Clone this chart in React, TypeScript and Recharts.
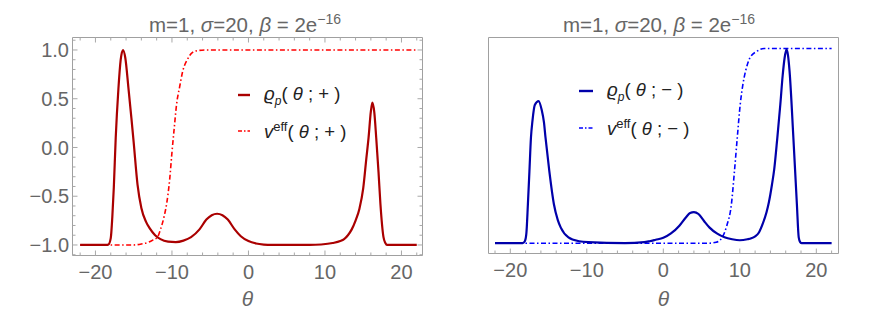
import React from 'react';
import { LineChart, Line, XAxis, YAxis, ReferenceArea, ReferenceLine } from 'recharts';

// theta / value pairs
const rhoPlus: [number, number][] = [
  [-22, -1], [-18.6, -1], [-18.3, -0.995], [-18.0, -0.93], [-17.8, -0.72], [-17.6, -0.41],
  [-17.35, 0.1], [-17.0, 0.6], [-16.7, 0.9], [-16.4, 1.0], [-16.1, 0.92], [-15.7, 0.62],
  [-15.3, 0.3], [-15.0, 0.05], [-14.5, -0.38], [-14.0, -0.62], [-13.4, -0.76], [-12.9, -0.83],
  [-12.2, -0.9], [-11.5, -0.94], [-10.5, -0.965], [-9.5, -0.97], [-8.5, -0.955], [-7.5, -0.92],
  [-6.4, -0.84], [-5.5, -0.74], [-4.8, -0.695], [-4.1, -0.68], [-3.4, -0.695], [-2.7, -0.74],
  [-1.8, -0.84], [-1.0, -0.91], [0, -0.96], [1, -0.985], [2, -0.996], [3, -1], [8, -1],
  [9.5, -0.995], [11, -0.98], [12, -0.96], [12.5, -0.94], [13, -0.9], [13.5, -0.84],
  [14.0, -0.75], [14.5, -0.63], [15.0, -0.42], [15.4, -0.12], [15.7, 0.1], [16.0, 0.37],
  [16.2, 0.46], [16.45, 0.36], [16.7, 0.1], [17.0, -0.25], [17.25, -0.58], [17.65, -0.92],
  [17.9, -0.98], [18.1, -1], [22, -1],
];

const veffPlus: [number, number][] = [
  [-22, -1], [-15, -1], [-14, -0.99], [-13, -0.97], [-12.5, -0.95], [-11.9, -0.92],
  [-11.5, -0.84], [-11, -0.7], [-10.7, -0.58], [-10.3, -0.33], [-10, -0.05], [-9.7, 0.2],
  [-9.4, 0.44], [-9, 0.62], [-8.6, 0.78], [-8, 0.9], [-7.3, 0.975], [-6.5, 0.995],
  [-5.5, 1], [22, 1],
];

const rhoMinus: [number, number][] = [
  [-22, -1], [-18.4, -1], [-18.1, -0.98], [-17.9, -0.9], [-17.7, -0.6], [-17.5, -0.26],
  [-17.3, 0.086], [-17.1, 0.26], [-16.8, 0.42], [-16.3, 0.46], [-15.9, 0.37], [-15.6, 0.24],
  [-15.4, 0.086], [-14.9, -0.26], [-14.3, -0.6], [-13.8, -0.76], [-13.4, -0.84], [-12.4, -0.94],
  [-11, -0.98], [-9.8, -0.99], [-5, -1], [-2.5, -0.99], [-1.8, -0.98], [-1, -0.965],
  [0, -0.945], [1, -0.9], [2.1, -0.82], [3.0, -0.73], [3.5, -0.69], [4.0, -0.68], [4.6, -0.7],
  [5.3, -0.77], [6.05, -0.84], [7, -0.9], [8, -0.94], [9, -0.96], [10, -0.97], [11, -0.96],
  [11.5, -0.95], [12, -0.93], [12.5, -0.89], [13, -0.8], [13.5, -0.68], [13.8, -0.58],
  [14.2, -0.4], [14.5, -0.24], [14.9, 0.08], [15.3, 0.43], [15.6, 0.72], [15.85, 0.9],
  [16.1, 0.99], [16.3, 0.93], [16.5, 0.77], [17.0, 0.086], [17.46, -0.6], [17.7, -0.94],
  [17.9, -0.99], [18.1, -1], [22, -1],
];

const veffMinus: [number, number][] = [
  [-22, -1], [6, -1], [6.9, -0.99], [7.4, -0.97], [7.7, -0.94], [8.3, -0.82], [8.9, -0.6],
  [9.3, -0.26], [9.67, 0.086], [10.06, 0.43], [10.4, 0.63], [10.76, 0.77], [11.3, 0.9],
  [12.2, 0.97], [13.2, 1], [22, 1],
];

const xTicks = [-22, -20, -18, -16, -14, -12, -10, -8, -6, -4, -2, 0, 2, 4, 6, 8, 10, 12, 14, 16, 18, 20, 22];
const xLabels = [-20, -10, 0, 10, 20];
const yTicks = [-1.1, -1.0, -0.9, -0.8, -0.7, -0.6, -0.5, -0.4, -0.3, -0.2, -0.1, 0, 0.1, 0.2, 0.3, 0.4, 0.5, 0.6, 0.7, 0.8, 0.9, 1.0, 1.1];
const yLabels = [-1.0, -0.5, 0, 0.5, 1.0];

const toPts = (arr: [number, number][]) => arr.map(([theta, v]) => ({ theta, v }));

const FONT = '"Liberation Sans", Arial, sans-serif';
const FRAME = '#a0a0a0';
const TICK = '#a8a8a8';
const LABEL = '#666';
const DOTDASH = '5 2.5 1.5 2.5';

const LX: [number, number] = [-23, 22.75];
const LY: [number, number] = [-1.108, 1.128];
const RX: [number, number] = [-22.85, 22.9];
const RY: [number, number] = [-1.106, 1.113];

const minus = (s: string) => s.replace('-', '\u2212');
const isMajorX = (v: number) => Math.abs(v % 10) < 1e-6;
const isMajorY = (v: number) => Math.abs(v * 2 - Math.round(v * 2)) < 1e-6;

// inward frame ticks, lengths given in data units of each axis
function frameTicks(xd: [number, number], yd: [number, number], allSides: boolean) {
  const ux = (xd[1] - xd[0]) / 350;
  const uy = (yd[1] - yd[0]) / 218;
  const out: React.ReactNode[] = [];
  xTicks.forEach((t) => {
    const l = (isMajorX(t) ? 5 : 3) * uy;
    out.push(<ReferenceLine key={`b${t}`} segment={[{ x: t, y: yd[0] }, { x: t, y: yd[0] + l }]} stroke={TICK} />);
    if (allSides) out.push(<ReferenceLine key={`t${t}`} segment={[{ x: t, y: yd[1] }, { x: t, y: yd[1] - l }]} stroke={TICK} />);
  });
  if (allSides) {
    yTicks.forEach((t) => {
      const l = (isMajorY(t) ? 5 : 3) * ux;
      out.push(<ReferenceLine key={`l${t}`} segment={[{ x: xd[0], y: t }, { x: xd[0] + l, y: t }]} stroke={TICK} />);
      out.push(<ReferenceLine key={`r${t}`} segment={[{ x: xd[1], y: t }, { x: xd[1] - l, y: t }]} stroke={TICK} />);
    });
  }
  return out;
}

function Title({ center }: { center: number }) {
  return (
    <div
      style={{
        position: 'absolute', left: center - 200, top: 9, width: 400, textAlign: 'center',
        fontFamily: FONT, fontSize: 20.5, lineHeight: '20px', color: LABEL, whiteSpace: 'nowrap',
      }}
    >
      m=1, <i>σ</i>=20, <i>β</i> = 2e<sup style={{ fontSize: 14, verticalAlign: '8px' }}>−16</sup>
    </div>
  );
}

function LegendRow({ top, left, color, dash, width, children }: any) {
  return (
    <div style={{ position: 'absolute', left, top, display: 'flex', alignItems: 'center', fontFamily: FONT, fontSize: 18.5, color: '#222', whiteSpace: 'nowrap' }}>
      <svg width={width} height={6} style={{ marginRight: 14 }}>
        <line x1={0} x2={width} y1={3} y2={3} stroke={color} strokeWidth={dash ? 1.6 : 2.4} strokeDasharray={dash} />
      </svg>
      <span>{children}</span>
    </div>
  );
}

const rhoLabel = (sign: string) => (
  <>
    <i>ϱ</i><sub style={{ fontSize: 12, fontStyle: 'italic' }}>p</sub>(&nbsp;<i>θ</i>&nbsp;;&nbsp;{sign}&nbsp;)
  </>
);
const veffLabel = (sign: string) => (
  <>
    <i>v</i><sup style={{ fontSize: 13, verticalAlign: '7px' }}>eff</sup>(&nbsp;<i>θ</i>&nbsp;;&nbsp;{sign}&nbsp;)
  </>
);

const tickStyle = { fill: LABEL, fontSize: 20, fontFamily: FONT };
const thetaLabel = { value: 'θ', position: 'insideBottom', offset: 8, fill: LABEL, fontSize: 21, fontStyle: 'italic', fontFamily: FONT };

export default function App() {
  return (
    <div style={{ position: 'absolute', left: 0, top: 0, width: 872, height: 314, background: '#fff', overflow: 'hidden' }}>
      <Title center={245} />
      <div style={{ position: 'absolute', left: 0, top: 0 }}>
        <LineChart width={436} height={314} margin={{ top: 37.5, right: 13.5, bottom: 0, left: 0 }}>
          <XAxis
            type="number" dataKey="theta" domain={LX} ticks={xLabels} interval={0}
            height={58.5} tickSize={0} tickMargin={9.5} tick={tickStyle}
            axisLine={false} tickLine={false} tickFormatter={(v: number) => minus(String(v))}
            label={thetaLabel}
          />
          <YAxis
            type="number" domain={LY} ticks={yLabels} interval={0} width={72.5}
            tickSize={0} tickMargin={3.5} tick={tickStyle} axisLine={false} tickLine={false}
            tickFormatter={(v: number) => minus(v.toFixed(1))}
          />
          <ReferenceArea x1={LX[0]} x2={LX[1]} y1={LY[0]} y2={LY[1]} fill="none" stroke={FRAME} ifOverflow="visible" />
          {frameTicks(LX, LY, true)}
          <Line data={toPts(veffPlus)} dataKey="v" type="monotone" stroke="#ff0000" strokeWidth={1.6}
            strokeDasharray={DOTDASH} dot={false} isAnimationActive={false} />
          <Line data={toPts(rhoPlus)} dataKey="v" type="monotone" stroke="#aa0000" strokeWidth={2.2}
            dot={false} isAnimationActive={false} />
        </LineChart>
      </div>
      <LegendRow top={83} left={238} width={12} color="#aa0000">{rhoLabel('+')}</LegendRow>
      <LegendRow top={119} left={238} width={12} color="#ff0000" dash="4 2 1.5 2">{veffLabel('+')}</LegendRow>

      <Title center={659} />
      <div style={{ position: 'absolute', left: 436, top: 0 }}>
        <LineChart width={436} height={314} margin={{ top: 37.5, right: 33.5, bottom: 0, left: 52.5 }}>
          <XAxis
            type="number" dataKey="theta" domain={RX} ticks={xLabels} interval={0}
            height={60.5} tickSize={0} tickMargin={9.5} tick={tickStyle}
            axisLine={false} tickLine={false} tickFormatter={(v: number) => minus(String(v))}
            label={thetaLabel}
          />
          <YAxis type="number" domain={RY} hide />
          <ReferenceArea x1={RX[0]} x2={RX[1]} y1={RY[0]} y2={RY[1]} fill="none" stroke={FRAME} ifOverflow="visible" />
          {frameTicks(RX, RY, false)}
          <Line data={toPts(veffMinus)} dataKey="v" type="monotone" stroke="#0000ff" strokeWidth={1.6}
            strokeDasharray={DOTDASH} dot={false} isAnimationActive={false} />
          <Line data={toPts(rhoMinus)} dataKey="v" type="monotone" stroke="#0000aa" strokeWidth={2.2}
            dot={false} isAnimationActive={false} />
        </LineChart>
      </div>
      <LegendRow top={79} left={579} width={14} color="#0000aa">{rhoLabel('−')}</LegendRow>
      <LegendRow top={116} left={579} width={14} color="#0000ff" dash="4 2 1.5 2">{veffLabel('−')}</LegendRow>
    </div>
  );
}
